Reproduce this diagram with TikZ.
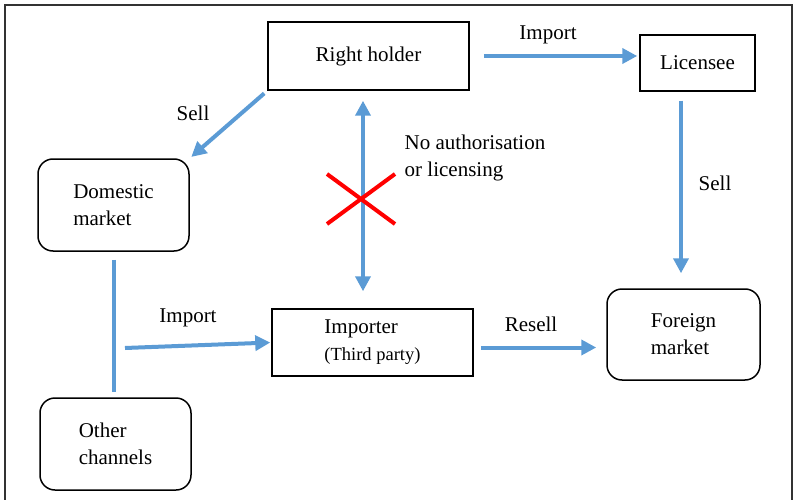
\documentclass[tikz,border=0pt]{standalone}
\usepackage{fontspec}
\setmainfont{Liberation Serif}
\usetikzlibrary{arrows.meta}
\definecolor{azul}{HTML}{5B9BD5}
\begin{document}
\begin{tikzpicture}[
    x=1pt, y=-1pt,
    every node/.style={font=\fontsize{21}{27}\selectfont},
    caja/.style={draw, line width=1.5pt, minimum width=201pt, minimum height=68pt},
    mercado/.style={draw, line width=1.5pt, rounded corners=15pt, minimum width=151pt, minimum height=92pt, align=left},
    flecha/.style={azul, line width=4pt, -{Triangle[length=15pt,width=15pt]}},
    flechaDoble/.style={azul, line width=4pt, {Triangle[length=15pt,width=15pt]}-{Triangle[length=15pt,width=15pt]}}
]
\useasboundingbox (0,0) rectangle (795,500);
% Marco
\draw[line width=1.5pt, black!80] (5,505) -- (5,5) -- (792,5) -- (792,505);
% Nodos
\node[caja] (titular) at (368.5,56) {Right holder};
\node[caja, minimum width=115pt, minimum height=56pt] (licenciatario) at (697.5,63) {Licensee};
\node[mercado] (mercadoInterno) at (113.5,205) {Domestic\\market};
\node[mercado] (otrosCanales) at (115.5,444) {Other\\channels};
\node[caja, minimum height=67pt, align=left] (importador) at (372.5,342.5) {Importer\\{\fontsize{18.5}{27}\selectfont(Third party)}};
\node[mercado, minimum width=153pt, minimum height=91pt] (mercadoExterior) at (683.5,334.5) {Foreign\\market};
% Etiquetas
\node (lblImport1) at (548,35) {Import};
\node (lblSell1) at (193,113) {Sell};
\node (lblSell2) at (715,183) {Sell};
\node (lblImport2) at (188,318) {Import};
\node (lblResell) at (531,324) {Resell};
\node[align=left] (lblNoAut) at (475,158) {No authorisation\\or licensing};
% Aristas
\draw[flecha, shorten <=14pt, shorten >=2pt] (titular.east) -- (titular.east -| licenciatario.west);
\draw[flecha, shorten <=4pt, shorten >=2pt] (titular.south west) -- (mercadoInterno.north east);
\draw[flecha, shorten <=9pt, shorten >=15pt] ([xshift=-2.5pt]mercadoExterior.north |- licenciatario.south) -- ([xshift=-2.5pt]mercadoExterior.north);
\draw[flechaDoble, shorten <=10pt, shorten >=17pt] ([xshift=-5.5pt]titular.south) -- ([xshift=-5.5pt]titular.south |- importador.north);
\draw[azul, line width=4pt, shorten <=8pt, shorten >=5pt] (mercadoInterno.south) -- (mercadoInterno.south |- otrosCanales.north);
\coordinate (ramal) at (125,348);
\draw[flecha, shorten >=1pt] (ramal) -- (importador.west);
\draw[flecha, shorten <=7pt, shorten >=10pt] ([yshift=-5pt]importador.east) -- ([yshift=-5pt]importador.east -| mercadoExterior.west);
% Cruz
\coordinate (cruz) at (361,199);
\draw[red, line width=4pt] ([shift={(-34,-25)}]cruz) -- ([shift={(34,25)}]cruz) ([shift={(-34,25)}]cruz) -- ([shift={(34,-25)}]cruz);
\end{tikzpicture}
\end{document}
